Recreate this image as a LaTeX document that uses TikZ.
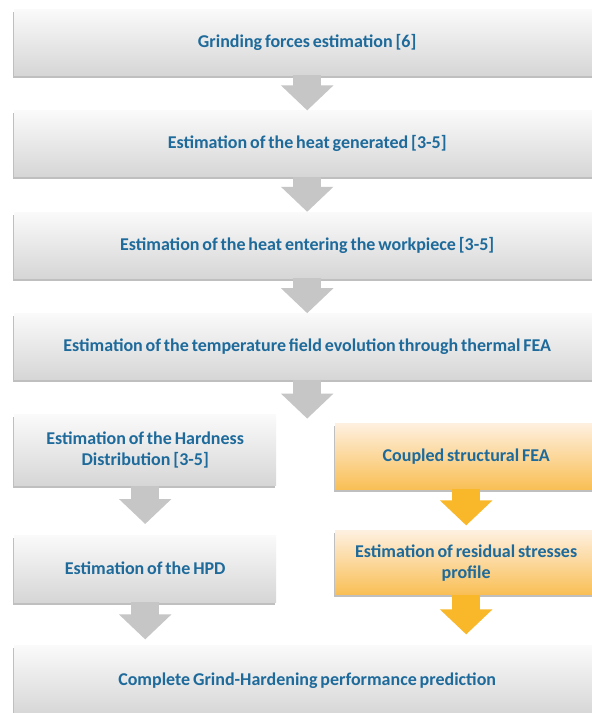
\documentclass[tikz,border=0pt]{standalone}
\usepackage{fontspec}
\setmainfont{Carlito}[WordSpace=0.7]
\usetikzlibrary{arrows.meta,positioning,shadows}
\definecolor{gmInk}{HTML}{1D6A9B}
\definecolor{gmGreyTop}{HTML}{FAFAFA}
\definecolor{gmGreyBot}{HTML}{D6D6D6}
\definecolor{gmAmberTop}{HTML}{FEF0E0}
\definecolor{gmAmberBot}{HTML}{F9BF55}
\definecolor{gmGreyArrow}{HTML}{C6C6C6}
\definecolor{gmAmberArrow}{HTML}{F8B82A}
\tikzset{
    stage/.style={minimum height=66pt, inner sep=0pt, align=center, text=gmInk, font=\fontsize{18}{21}\selectfont\bfseries, top color=gmGreyTop, bottom color=gmGreyBot, drop shadow={shadow xshift=-1pt, shadow yshift=-2.5pt, opacity=0.5}},
    widestage/.style={stage, minimum width=586pt},
    halfstage/.style={stage, minimum width=262pt},
    fea/.style={halfstage, top color=gmAmberTop, bottom color=gmAmberBot},
    greyarrow/.style={-{Triangle[width=51pt,length=25pt]}, line width=28pt, draw=gmGreyArrow},
    amberarrow/.style={-{Triangle[width=51pt,length=25pt]}, line width=28pt, draw=gmAmberArrow}
}
\begin{document}
\begin{tikzpicture}[x=1pt, y=-1pt, node distance=35pt]
\useasboundingbox[fill=white] (0,0) rectangle (592,713);
% main chain
\node[widestage, anchor=north west] (forces) at (14,9) {Grinding forces estimation [6]};
\node[widestage, below=of forces] (heat) {Estimation of the heat generated [3-5]};
\node[widestage, below=of heat] (flux) {Estimation of the heat entering the workpiece [3-5]};
\node[widestage, below=of flux] (thermal) {Estimation of the temperature field evolution through thermal FEA};
% hardness branch
\node[halfstage, minimum height=71pt, below=35pt of thermal.south west, anchor=north west] (hard) {Estimation of the Hardness\\Distribution [3-5]};
\node[halfstage, minimum height=67pt, below=49pt of hard.south west, anchor=north west] (hpd) {Estimation of the HPD};
% structural branch
\node[fea, anchor=north west] (coupled) at (335,423) {Coupled structural FEA};
\node[fea, minimum height=64pt, below=41pt of coupled.south west, anchor=north west] (resid) {Estimation of residual stresses\\profile};
\node[widestage, minimum height=70pt, below=43pt of hpd.south west, anchor=north west] (final) {Complete Grind-Hardening performance prediction};
% block arrows
\draw[greyarrow] (forces) -- (heat);
\draw[greyarrow] (heat) -- (flux);
\draw[greyarrow] (flux) -- (thermal);
\draw[greyarrow, shorten >=-4pt] (thermal.south) -- (thermal.south |- hard.north);
\draw[greyarrow, shorten >=11pt] (hard) -- (hpd);
\draw[greyarrow, shorten >=6pt] (hpd.south) -- (hpd.south |- final.north);
\draw[amberarrow, shorten >=5pt] (coupled) -- (resid);
\draw[amberarrow, shorten >=11pt] (resid.south) -- (resid.south |- final.north);
\end{tikzpicture}
\end{document}
